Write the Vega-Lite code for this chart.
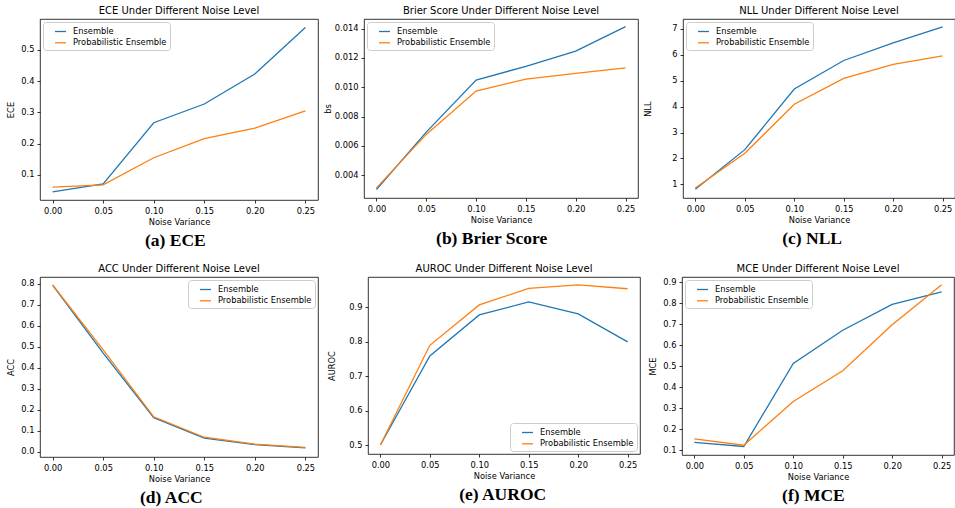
{
  "$schema": "https://vega.github.io/schema/vega-lite/v6.json",
  "padding": {"left": 6, "top": 5, "right": 0, "bottom": 0},
  "datasets": {
    "d": [
      {"metric": "ECE", "model": "Ensemble", "noise": 0, "value": 0.046},
      {"metric": "ECE", "model": "Ensemble", "noise": 0.05, "value": 0.071},
      {"metric": "ECE", "model": "Ensemble", "noise": 0.1, "value": 0.267},
      {"metric": "ECE", "model": "Ensemble", "noise": 0.15, "value": 0.327},
      {"metric": "ECE", "model": "Ensemble", "noise": 0.2, "value": 0.423},
      {"metric": "ECE", "model": "Ensemble", "noise": 0.25, "value": 0.572},
      {"metric": "ECE", "model": "Probabilistic Ensemble", "noise": 0, "value": 0.061},
      {"metric": "ECE", "model": "Probabilistic Ensemble", "noise": 0.05, "value": 0.068},
      {"metric": "ECE", "model": "Probabilistic Ensemble", "noise": 0.1, "value": 0.155},
      {"metric": "ECE", "model": "Probabilistic Ensemble", "noise": 0.15, "value": 0.216},
      {"metric": "ECE", "model": "Probabilistic Ensemble", "noise": 0.2, "value": 0.25},
      {"metric": "ECE", "model": "Probabilistic Ensemble", "noise": 0.25, "value": 0.305},
      {"metric": "BS", "model": "Ensemble", "noise": 0, "value": 0.00302},
      {"metric": "BS", "model": "Ensemble", "noise": 0.05, "value": 0.00694},
      {"metric": "BS", "model": "Ensemble", "noise": 0.1, "value": 0.01049},
      {"metric": "BS", "model": "Ensemble", "noise": 0.15, "value": 0.01143},
      {"metric": "BS", "model": "Ensemble", "noise": 0.2, "value": 0.01247},
      {"metric": "BS", "model": "Ensemble", "noise": 0.25, "value": 0.01414},
      {"metric": "BS", "model": "Probabilistic Ensemble", "noise": 0, "value": 0.00313},
      {"metric": "BS", "model": "Probabilistic Ensemble", "noise": 0.05, "value": 0.00678},
      {"metric": "BS", "model": "Probabilistic Ensemble", "noise": 0.1, "value": 0.00974},
      {"metric": "BS", "model": "Probabilistic Ensemble", "noise": 0.15, "value": 0.01056},
      {"metric": "BS", "model": "Probabilistic Ensemble", "noise": 0.2, "value": 0.01095},
      {"metric": "BS", "model": "Probabilistic Ensemble", "noise": 0.25, "value": 0.01133},
      {"metric": "NLL", "model": "Ensemble", "noise": 0, "value": 0.81},
      {"metric": "NLL", "model": "Ensemble", "noise": 0.05, "value": 2.34},
      {"metric": "NLL", "model": "Ensemble", "noise": 0.1, "value": 4.68},
      {"metric": "NLL", "model": "Ensemble", "noise": 0.15, "value": 5.78},
      {"metric": "NLL", "model": "Ensemble", "noise": 0.2, "value": 6.46},
      {"metric": "NLL", "model": "Ensemble", "noise": 0.25, "value": 7.08},
      {"metric": "NLL", "model": "Probabilistic Ensemble", "noise": 0, "value": 0.86},
      {"metric": "NLL", "model": "Probabilistic Ensemble", "noise": 0.05, "value": 2.2},
      {"metric": "NLL", "model": "Probabilistic Ensemble", "noise": 0.1, "value": 4.09},
      {"metric": "NLL", "model": "Probabilistic Ensemble", "noise": 0.15, "value": 5.09},
      {"metric": "NLL", "model": "Probabilistic Ensemble", "noise": 0.2, "value": 5.63},
      {"metric": "NLL", "model": "Probabilistic Ensemble", "noise": 0.25, "value": 5.96},
      {"metric": "ACC", "model": "Ensemble", "noise": 0, "value": 0.793},
      {"metric": "ACC", "model": "Ensemble", "noise": 0.05, "value": 0.47},
      {"metric": "ACC", "model": "Ensemble", "noise": 0.1, "value": 0.163},
      {"metric": "ACC", "model": "Ensemble", "noise": 0.15, "value": 0.066},
      {"metric": "ACC", "model": "Ensemble", "noise": 0.2, "value": 0.035},
      {"metric": "ACC", "model": "Ensemble", "noise": 0.25, "value": 0.019},
      {"metric": "ACC", "model": "Probabilistic Ensemble", "noise": 0, "value": 0.795},
      {"metric": "ACC", "model": "Probabilistic Ensemble", "noise": 0.05, "value": 0.485},
      {"metric": "ACC", "model": "Probabilistic Ensemble", "noise": 0.1, "value": 0.167},
      {"metric": "ACC", "model": "Probabilistic Ensemble", "noise": 0.15, "value": 0.07},
      {"metric": "ACC", "model": "Probabilistic Ensemble", "noise": 0.2, "value": 0.037},
      {"metric": "ACC", "model": "Probabilistic Ensemble", "noise": 0.25, "value": 0.022},
      {"metric": "AUROC", "model": "Ensemble", "noise": 0, "value": 0.5},
      {"metric": "AUROC", "model": "Ensemble", "noise": 0.05, "value": 0.758},
      {"metric": "AUROC", "model": "Ensemble", "noise": 0.1, "value": 0.877},
      {"metric": "AUROC", "model": "Ensemble", "noise": 0.15, "value": 0.915},
      {"metric": "AUROC", "model": "Ensemble", "noise": 0.2, "value": 0.88},
      {"metric": "AUROC", "model": "Ensemble", "noise": 0.25, "value": 0.799},
      {"metric": "AUROC", "model": "Probabilistic Ensemble", "noise": 0, "value": 0.5},
      {"metric": "AUROC", "model": "Probabilistic Ensemble", "noise": 0.05, "value": 0.789},
      {"metric": "AUROC", "model": "Probabilistic Ensemble", "noise": 0.1, "value": 0.906},
      {"metric": "AUROC", "model": "Probabilistic Ensemble", "noise": 0.15, "value": 0.954},
      {"metric": "AUROC", "model": "Probabilistic Ensemble", "noise": 0.2, "value": 0.964},
      {"metric": "AUROC", "model": "Probabilistic Ensemble", "noise": 0.25, "value": 0.953},
      {"metric": "MCE", "model": "Ensemble", "noise": 0, "value": 0.137},
      {"metric": "MCE", "model": "Ensemble", "noise": 0.05, "value": 0.118},
      {"metric": "MCE", "model": "Ensemble", "noise": 0.1, "value": 0.513},
      {"metric": "MCE", "model": "Ensemble", "noise": 0.15, "value": 0.671},
      {"metric": "MCE", "model": "Ensemble", "noise": 0.2, "value": 0.794},
      {"metric": "MCE", "model": "Ensemble", "noise": 0.25, "value": 0.853},
      {"metric": "MCE", "model": "Probabilistic Ensemble", "noise": 0, "value": 0.154},
      {"metric": "MCE", "model": "Probabilistic Ensemble", "noise": 0.05, "value": 0.124},
      {"metric": "MCE", "model": "Probabilistic Ensemble", "noise": 0.1, "value": 0.332},
      {"metric": "MCE", "model": "Probabilistic Ensemble", "noise": 0.15, "value": 0.478},
      {"metric": "MCE", "model": "Probabilistic Ensemble", "noise": 0.2, "value": 0.697},
      {"metric": "MCE", "model": "Probabilistic Ensemble", "noise": 0.25, "value": 0.887}
    ]
  },
  "spacing": 13,
  "resolve": {"scale": {"color": "independent"}, "legend": {"color": "independent"}},
  "vconcat": [
    {
      "spacing": 3,
      "resolve": {"scale": {"color": "independent"}, "legend": {"color": "independent"}},
      "hconcat": [
        {
          "title": {"text": "(a) ECE", "orient": "bottom", "anchor": "middle", "frame": "bounds", "dx": 13, "font": "Liberation Serif", "fontWeight": "bold", "fontSize": 17.5, "offset": 6},
          "resolve": {"scale": {"color": "independent"}, "legend": {"color": "independent"}},
          "vconcat": [
            {
              "title": "ECE Under Different Noise Level",
              "width": 278, "height": 181,
              "data": {"name": "d"},
              "transform": [{"filter": "datum.metric === 'ECE'"}],
              "mark": {"type": "line", "strokeWidth": 1.3},
              "encoding": {
                "x": {"field": "noise", "type": "quantitative", "scale": {"domain": [-0.0125, 0.2625], "nice": false, "zero": false}, "axis": {"values": [0, 0.05, 0.1, 0.15, 0.2, 0.25], "format": ".2f", "title": "Noise Variance"}},
                "y": {"field": "value", "type": "quantitative", "scale": {"domain": [0.0197, 0.599], "nice": false, "zero": false}, "axis": {"values": [0.1, 0.2, 0.3, 0.4, 0.5], "format": ".1f", "title": "ECE", "titlePadding": 5}},
                "color": {"field": "model", "type": "nominal", "scale": {"domain": ["Ensemble", "Probabilistic Ensemble"], "range": ["#1f77b4", "#ff7f0e"]}, "legend": {"orient": "top-left", "title": null}}
              }
            }
          ]
        },
        {
          "title": {"text": "(b) Brier Score", "orient": "bottom", "anchor": "middle", "frame": "bounds", "dx": 11, "font": "Liberation Serif", "fontWeight": "bold", "fontSize": 17.5, "offset": 6},
          "resolve": {"scale": {"color": "independent"}, "legend": {"color": "independent"}},
          "vconcat": [
            {
              "title": "Brier Score Under Different Noise Level",
              "width": 274, "height": 179,
              "data": {"name": "d"},
              "transform": [{"filter": "datum.metric === 'BS'"}],
              "mark": {"type": "line", "strokeWidth": 1.3},
              "encoding": {
                "x": {"field": "noise", "type": "quantitative", "scale": {"domain": [-0.0125, 0.2625], "nice": false, "zero": false}, "axis": {"values": [0, 0.05, 0.1, 0.15, 0.2, 0.25], "format": ".2f", "title": "Noise Variance"}},
                "y": {"field": "value", "type": "quantitative", "scale": {"domain": [0.00244, 0.01466], "nice": false, "zero": false}, "axis": {"values": [0.004, 0.006, 0.008, 0.01, 0.012, 0.014], "format": ".3f", "title": "bs", "titlePadding": 2}},
                "color": {"field": "model", "type": "nominal", "scale": {"domain": ["Ensemble", "Probabilistic Ensemble"], "range": ["#1f77b4", "#ff7f0e"]}, "legend": {"orient": "top-left", "title": null}}
              }
            }
          ]
        },
        {
          "title": {"text": "(c) NLL", "orient": "bottom", "anchor": "middle", "frame": "bounds", "dx": 13, "font": "Liberation Serif", "fontWeight": "bold", "fontSize": 17.5, "offset": 6},
          "resolve": {"scale": {"color": "independent"}, "legend": {"color": "independent"}},
          "vconcat": [
            {
              "title": "NLL Under Different Noise Level",
              "width": 272, "height": 179,
              "data": {"name": "d"},
              "transform": [{"filter": "datum.metric === 'NLL'"}],
              "mark": {"type": "line", "strokeWidth": 1.3},
              "encoding": {
                "x": {"field": "noise", "type": "quantitative", "scale": {"domain": [-0.0125, 0.2625], "nice": false, "zero": false}, "axis": {"values": [0, 0.05, 0.1, 0.15, 0.2, 0.25], "format": ".2f", "title": "Noise Variance"}},
                "y": {"field": "value", "type": "quantitative", "scale": {"domain": [0.475, 7.38], "nice": false, "zero": false}, "axis": {"values": [1, 2, 3, 4, 5, 6, 7], "format": "d", "title": "NLL", "titlePadding": 4, "minExtent": 26.7}},
                "color": {"field": "model", "type": "nominal", "scale": {"domain": ["Ensemble", "Probabilistic Ensemble"], "range": ["#1f77b4", "#ff7f0e"]}, "legend": {"orient": "top-left", "title": null}}
              }
            }
          ]
        }
      ]
    },
    {
      "spacing": 7,
      "resolve": {"scale": {"color": "independent"}, "legend": {"color": "independent"}},
      "hconcat": [
        {
          "title": {"text": "(d) ACC", "orient": "bottom", "anchor": "middle", "frame": "bounds", "dx": 9, "font": "Liberation Serif", "fontWeight": "bold", "fontSize": 17.5, "offset": 6},
          "resolve": {"scale": {"color": "independent"}, "legend": {"color": "independent"}},
          "vconcat": [
            {
              "title": "ACC Under Different Noise Level",
              "width": 278, "height": 180,
              "data": {"name": "d"},
              "transform": [{"filter": "datum.metric === 'ACC'"}],
              "mark": {"type": "line", "strokeWidth": 1.3},
              "encoding": {
                "x": {"field": "noise", "type": "quantitative", "scale": {"domain": [-0.0125, 0.2625], "nice": false, "zero": false}, "axis": {"values": [0, 0.05, 0.1, 0.15, 0.2, 0.25], "format": ".2f", "title": "Noise Variance"}},
                "y": {"field": "value", "type": "quantitative", "scale": {"domain": [-0.024, 0.832], "nice": false, "zero": false}, "axis": {"values": [0, 0.1, 0.2, 0.3, 0.4, 0.5, 0.6, 0.7, 0.8], "format": ".1f", "title": "ACC", "titlePadding": 5}},
                "color": {"field": "model", "type": "nominal", "scale": {"domain": ["Ensemble", "Probabilistic Ensemble"], "range": ["#1f77b4", "#ff7f0e"]}, "legend": {"orient": "top-right", "title": null}}
              }
            }
          ]
        },
        {
          "title": {"text": "(e) AUROC", "orient": "bottom", "anchor": "middle", "frame": "bounds", "dx": 19, "font": "Liberation Serif", "fontWeight": "bold", "fontSize": 17.5, "offset": 6},
          "resolve": {"scale": {"color": "independent"}, "legend": {"color": "independent"}},
          "vconcat": [
            {
              "title": "AUROC Under Different Noise Level",
              "width": 272, "height": 177,
              "data": {"name": "d"},
              "transform": [{"filter": "datum.metric === 'AUROC'"}],
              "mark": {"type": "line", "strokeWidth": 1.3},
              "encoding": {
                "x": {"field": "noise", "type": "quantitative", "scale": {"domain": [-0.0125, 0.2625], "nice": false, "zero": false}, "axis": {"values": [0, 0.05, 0.1, 0.15, 0.2, 0.25], "format": ".2f", "title": "Noise Variance"}},
                "y": {"field": "value", "type": "quantitative", "scale": {"domain": [0.474, 0.987], "nice": false, "zero": false}, "axis": {"values": [0.5, 0.6, 0.7, 0.8, 0.9], "format": ".1f", "title": "AUROC", "titlePadding": 5, "minExtent": 26.7}},
                "color": {"field": "model", "type": "nominal", "scale": {"domain": ["Ensemble", "Probabilistic Ensemble"], "range": ["#1f77b4", "#ff7f0e"]}, "legend": {"orient": "bottom-right", "title": null}}
              }
            }
          ]
        },
        {
          "title": {"text": "(f) MCE", "orient": "bottom", "anchor": "middle", "frame": "bounds", "dx": 12, "font": "Liberation Serif", "fontWeight": "bold", "fontSize": 17.5, "offset": 6},
          "resolve": {"scale": {"color": "independent"}, "legend": {"color": "independent"}},
          "vconcat": [
            {
              "title": "MCE Under Different Noise Level",
              "width": 272, "height": 178,
              "data": {"name": "d"},
              "transform": [{"filter": "datum.metric === 'MCE'"}],
              "mark": {"type": "line", "strokeWidth": 1.3},
              "encoding": {
                "x": {"field": "noise", "type": "quantitative", "scale": {"domain": [-0.0125, 0.2625], "nice": false, "zero": false}, "axis": {"values": [0, 0.05, 0.1, 0.15, 0.2, 0.25], "format": ".2f", "title": "Noise Variance"}},
                "y": {"field": "value", "type": "quantitative", "scale": {"domain": [0.0774, 0.924], "nice": false, "zero": false}, "axis": {"values": [0.1, 0.2, 0.3, 0.4, 0.5, 0.6, 0.7, 0.8, 0.9], "format": ".1f", "title": "MCE", "titlePadding": 5}},
                "color": {"field": "model", "type": "nominal", "scale": {"domain": ["Ensemble", "Probabilistic Ensemble"], "range": ["#1f77b4", "#ff7f0e"]}, "legend": {"orient": "top-left", "title": null}}
              }
            }
          ]
        }
      ]
    }
  ],
  "config": {
    "view": {"stroke": "#000", "strokeWidth": 0.8},
    "font": "DejaVu Sans",
    "axis": {"grid": false, "domain": false, "tickColor": "#000", "tickSize": 3, "tickWidth": 0.8, "labelFont": "DejaVu Sans", "labelFontSize": 8.3, "labelColor": "#000", "labelPadding": 3, "labelFlush": false, "labelOverlap": false, "titleFont": "DejaVu Sans", "titleFontSize": 8.3, "titleFontWeight": "normal", "titleColor": "#000"},
    "axisX": {"titlePadding": 3},
    "legend": {"symbolType": "stroke", "symbolSize": 121, "symbolStrokeWidth": 1.3, "symbolOffset": 8, "labelOffset": 6, "labelFont": "DejaVu Sans", "labelFontSize": 8.3, "labelColor": "#000", "padding": 3, "rowPadding": 1.3, "fillColor": "#ffffff", "strokeColor": "#cccccc", "cornerRadius": 3, "offset": 3},
    "title": {"font": "DejaVu Sans", "fontSize": 10, "fontWeight": "normal", "color": "#000", "offset": 3}
  }
}
